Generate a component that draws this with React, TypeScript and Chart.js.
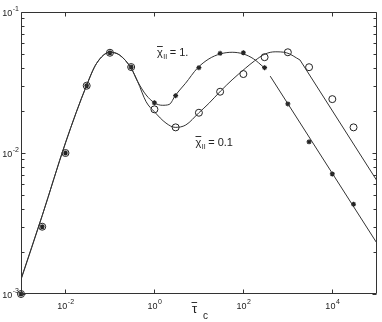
import React, { useEffect, useRef } from 'react';
import { Chart, registerables } from 'chart.js';

Chart.register(...registerables);

// Markers (asterisk: chi_II = 1, circle: chi_II = 0.1)
const markerX = [0.001, 0.003, 0.01, 0.03, 0.1, 0.3, 1, 3, 10, 30, 100, 300, 1000, 3000, 10000, 30000];
const markerChi1 = [0.001, 0.003, 0.01, 0.03, 0.0514, 0.0407, 0.0227, 0.0255, 0.0403, 0.0509, 0.0514, 0.0403, 0.0223, 0.012, 0.0071, 0.00433];
const markerChi01 = [0.001, 0.003, 0.01, 0.03, 0.0514, 0.0407, 0.0204, 0.0152, 0.0193, 0.0272, 0.0363, 0.0478, 0.0518, 0.0406, 0.0241, 0.0152];

// Model curves
const curveCommonX = [0.001, 0.003, 0.01, 0.03, 0.05, 0.1, 0.165, 0.3, 0.42];
const curveCommonY = [0.00127, 0.0036, 0.0118, 0.0303, 0.0432, 0.0518, 0.0495, 0.0399, 0.0321];
const curveChi1X = [0.65, 1, 1.5, 2.15, 3, 5, 9.2, 16.8, 30, 56, 100, 170, 285];
const curveChi1Y = [0.0258, 0.0227, 0.0218, 0.0221, 0.0258, 0.0312, 0.0399, 0.0465, 0.0504, 0.0518, 0.0504, 0.0465, 0.0406];
const asymChi1X = [401, 100000];
const asymChi1Y = [0.0351, 0.0023];
const curveChi01X = [0.65, 1, 1.82, 2.93, 5.07, 10, 16.8, 30.7, 55.7, 111, 178, 310, 518, 927, 1871];
const curveChi01Y = [0.0231, 0.0196, 0.0163, 0.0152, 0.0158, 0.0193, 0.0225, 0.0275, 0.033, 0.0399, 0.045, 0.0504, 0.0522, 0.0514, 0.0457];
const asymChi01X = [1871, 100000];
const asymChi01Y = [0.0457, 0.00638];

// Axes
const xMin = 1e-3;
const xMax = 1e5;
const yMin = 1e-3;
const yMax = 1e-1;
const xTickValues = [0.01, 1, 100, 10000];
const xTickExps = ['-2', '0', '2', '4'];
const yTickValues = [0.001, 0.01, 0.1];
const yTickExps = ['-3', '-2', '-1'];
const yMinorMultipliers = [2, 3, 4, 5, 6, 7, 8, 9];
const yMinorDecades = [0.001, 0.01];

const FONT = '"Liberation Sans", Arial, Helvetica, sans-serif';
const INK = '#222';

const pts = (xs: number[], ys: number[]) => xs.map((x, i) => ({ x, y: ys[i] }));

const axisPlugin = {
  id: 'matlabAxes',
  afterDraw(chart: any) {
    const ctx = chart.ctx as CanvasRenderingContext2D;
    const { left, right, top, bottom } = chart.chartArea;
    const xs = chart.scales.x;
    const ys = chart.scales.y;
    ctx.save();
    ctx.strokeStyle = '#333';
    ctx.lineWidth = 1;
    const L = Math.round(left) + 0.5;
    const R = Math.round(right) - 0.5;
    const T = Math.round(top) + 0.5;
    const B = Math.round(bottom) - 0.5;
    ctx.beginPath();
    ctx.rect(L, T, R - L, B - T);
    ctx.stroke();

    // x ticks
    ctx.beginPath();
    xTickValues.forEach((v) => {
      const px = Math.round(xs.getPixelForValue(v)) + 0.5;
      ctx.moveTo(px, B);
      ctx.lineTo(px, B - 4);
      ctx.moveTo(px, T);
      ctx.lineTo(px, T + 4);
    });
    // y ticks
    yTickValues.forEach((v) => {
      const py = Math.round(ys.getPixelForValue(v)) + 0.5;
      ctx.moveTo(L, py);
      ctx.lineTo(L + 4, py);
      ctx.moveTo(R, py);
      ctx.lineTo(R - 4, py);
    });
    yMinorDecades.forEach((d) => {
      yMinorMultipliers.forEach((m) => {
        const py = Math.round(ys.getPixelForValue(d * m)) + 0.5;
        ctx.moveTo(L, py);
        ctx.lineTo(L + 3, py);
        ctx.moveTo(R, py);
        ctx.lineTo(R - 3, py);
      });
    });
    ctx.stroke();

    // tick labels
    ctx.fillStyle = INK;
    ctx.textBaseline = 'alphabetic';
    ctx.textAlign = 'left';
    const baseFont = `9px ${FONT}`;
    const expFont = `7px ${FONT}`;
    const measure = (e: string) => {
      ctx.font = baseFont;
      const w1 = ctx.measureText('10').width;
      ctx.font = expFont;
      const w2 = ctx.measureText(e).width;
      return [w1, w2];
    };
    xTickValues.forEach((v, i) => {
      const px = xs.getPixelForValue(v);
      const e = xTickExps[i];
      const [w1, w2] = measure(e);
      const x0 = px - (w1 + w2) / 2;
      ctx.font = baseFont;
      ctx.fillText('10', x0, 308.5);
      ctx.font = expFont;
      ctx.fillText(e, x0 + w1 + 0.5, 304);
    });
    yTickValues.forEach((v, i) => {
      const py = ys.getPixelForValue(v);
      const e = yTickExps[i];
      const [w1, w2] = measure(e);
      const x0 = 18.5 - (w1 + w2);
      ctx.font = baseFont;
      ctx.fillText('10', x0, py + 3.5);
      ctx.font = expFont;
      ctx.fillText(e, x0 + w1 + 0.5, py - 1);
    });

    // annotations: chi_II labels
    const chiLabel = (x: number, base: number, rest: string) => {
      ctx.font = `11px ${FONT}`;
      const wChi = ctx.measureText('χ').width;
      ctx.fillText('χ', x, base);
      ctx.beginPath();
      ctx.moveTo(x, base - 9.5);
      ctx.lineTo(x + wChi, base - 9.5);
      ctx.stroke();
      ctx.font = `7px ${FONT}`;
      ctx.fillText('II', x + wChi + 0.5, base + 3);
      const wII = ctx.measureText('II').width;
      ctx.font = `11px ${FONT}`;
      ctx.fillText(rest, x + wChi + wII + 3, base);
    };
    chiLabel(157, 56, '= 1.');
    chiLabel(195.5, 146, '= 0.1');

    // x-axis title: tau_c with overline
    ctx.font = `13px ${FONT}`;
    const wTau = ctx.measureText('τ').width;
    ctx.fillText('τ', 192, 313);
    ctx.beginPath();
    ctx.moveTo(191.5, 302.5);
    ctx.lineTo(192 + wTau, 302.5);
    ctx.stroke();
    ctx.font = `10px ${FONT}`;
    ctx.fillText('c', 203, 319);
    ctx.restore();
  },
};

export default function App() {
  const ref = useRef<HTMLCanvasElement | null>(null);
  useEffect(() => {
    document.body.style.margin = '0';
    const canvas = ref.current;
    if (!canvas) return;
    const lineBase = {
      borderColor: '#333',
      borderWidth: 1,
      pointRadius: 0,
      fill: false,
      showLine: true,
    };
    const chart = new Chart(canvas, {
      type: 'line',
      data: {
        datasets: [
          {
            ...lineBase,
            label: 'chi1 curve',
            data: pts([...curveCommonX, ...curveChi1X], [...curveCommonY, ...curveChi1Y]),
            cubicInterpolationMode: 'monotone',
          },
          {
            ...lineBase,
            label: 'chi1 asymptote',
            data: pts(asymChi1X, asymChi1Y),
            tension: 0,
          },
          {
            ...lineBase,
            label: 'chi0.1 curve',
            data: pts([...curveCommonX, ...curveChi01X], [...curveCommonY, ...curveChi01Y]),
            cubicInterpolationMode: 'monotone',
          },
          {
            ...lineBase,
            label: 'chi0.1 asymptote',
            data: pts(asymChi01X, asymChi01Y),
            tension: 0,
          },
          {
            label: 'chi_II = 1',
            data: pts(markerX, markerChi1),
            showLine: false,
            pointStyle: 'star',
            pointRadius: 2.5,
            borderColor: INK,
            backgroundColor: INK,
            pointBorderWidth: 1.2,
            clip: false,
          },
          {
            label: 'chi_II = 0.1',
            data: pts(markerX, markerChi01),
            showLine: false,
            pointStyle: 'circle',
            pointRadius: 3.5,
            borderColor: INK,
            backgroundColor: 'rgba(0,0,0,0)',
            pointBorderWidth: 1,
            clip: false,
          },
        ] as any,
      },
      options: {
        animation: false,
        responsive: false,
        maintainAspectRatio: false,
        devicePixelRatio: 1,
        layout: { padding: { left: 21, right: 3, top: 12, bottom: 28 } },
        plugins: { legend: { display: false }, tooltip: { enabled: false } },
        events: [],
        scales: {
          x: { type: 'logarithmic', min: xMin, max: xMax, display: false },
          y: { type: 'logarithmic', min: yMin, max: yMax, display: false },
        },
      } as any,
      plugins: [axisPlugin],
    });
    return () => chart.destroy();
  }, []);
  return (
    <div style={{ width: 382, height: 322, background: '#fff' }}>
      <canvas ref={ref} width={382} height={322} style={{ display: 'block', width: 382, height: 322 }} />
    </div>
  );
}
